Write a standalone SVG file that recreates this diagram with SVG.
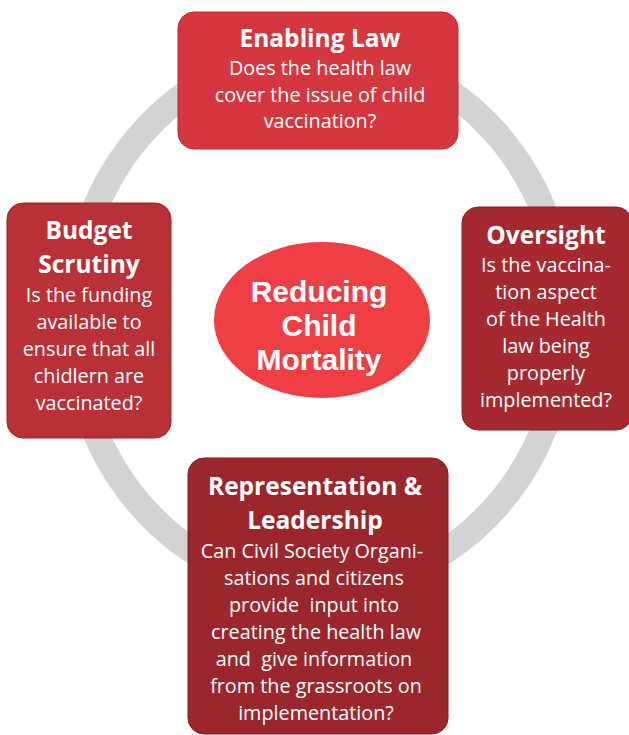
<svg xmlns="http://www.w3.org/2000/svg" width="629" height="735" viewBox="0 0 629 735">
<style>
.title{font-family:"Open Sans","Liberation Sans",sans-serif;font-weight:700;font-size:24.5px;fill:#fff;text-anchor:middle}
.body{font-family:"Open Sans","Liberation Sans",sans-serif;font-weight:400;font-size:19.8px;fill:#fff;text-anchor:middle}
.center{font-family:"Liberation Sans",Arial,sans-serif;font-weight:700;font-size:30px;fill:#fff;text-anchor:middle}
</style>
<rect width="629" height="735" fill="#fff"/>
<g id="connectors">
<ellipse cx="319" cy="320" rx="246" ry="269" fill="none" stroke="#d1d3d4" stroke-width="26"/>
</g>
<g id="center">
<ellipse cx="322" cy="320" rx="108" ry="78" fill="#ef3f45"/>
<text class="center" x="319" y="302">Reducing</text>
<text class="center" x="319" y="336">Child</text>
<text class="center" x="319" y="370">Mortality</text>
</g>
<g id="enabling-law">
<rect x="178" y="12" width="280" height="137" rx="16" fill="#d6373e" stroke="#b8282f" stroke-width="1"/>
<text class="title" x="320" y="47">Enabling Law</text>
<text class="body" x="320" y="75">Does the health law</text>
<text class="body" x="320" y="102">cover the issue of child</text>
<text class="body" x="320" y="128">vaccination?</text>
</g>
<g id="budget-scrutiny">
<rect x="7" y="203" width="164" height="235" rx="16" fill="#b93036" stroke="#9c2329" stroke-width="1"/>
<text class="title" x="89" y="239">Budget</text>
<text class="title" x="89" y="273">Scrutiny</text>
<text class="body" x="89" y="302">Is the funding</text>
<text class="body" x="89" y="329">available to</text>
<text class="body" x="89" y="356">ensure that all</text>
<text class="body" x="89" y="383">chidlern are</text>
<text class="body" x="89" y="410">vaccinated?</text>
</g>
<g id="oversight">
<rect x="462" y="207" width="170" height="223" rx="16" fill="#a5292f" stroke="#8a1f25" stroke-width="1"/>
<text class="title" x="546" y="244">Oversight</text>
<text class="body" x="546" y="272">Is the vaccina-</text>
<text class="body" x="546" y="299">tion aspect</text>
<text class="body" x="546" y="326">of the Health</text>
<text class="body" x="546" y="353">law being</text>
<text class="body" x="546" y="380">properly</text>
<text class="body" x="546" y="407">implemented?</text>
</g>
<g id="representation-leadership">
<rect x="188" y="458" width="260" height="276" rx="16" fill="#9b272d" stroke="#801d22" stroke-width="1"/>
<text class="title" x="315" y="495">Representation &amp;</text>
<text class="title" x="315" y="529">Leadership</text>
<text class="body" x="312" y="558">Can Civil Society Organi-</text>
<text class="body" x="314" y="585">sations and citizens</text>
<text class="body" x="314" y="612" xml:space="preserve">provide  input into</text>
<text class="body" x="316" y="639">creating the health law</text>
<text class="body" x="314" y="666" xml:space="preserve">and  give information</text>
<text class="body" x="316" y="693">from the grassroots on</text>
<text class="body" x="316" y="720">implementation?</text>
</g>
</svg>
